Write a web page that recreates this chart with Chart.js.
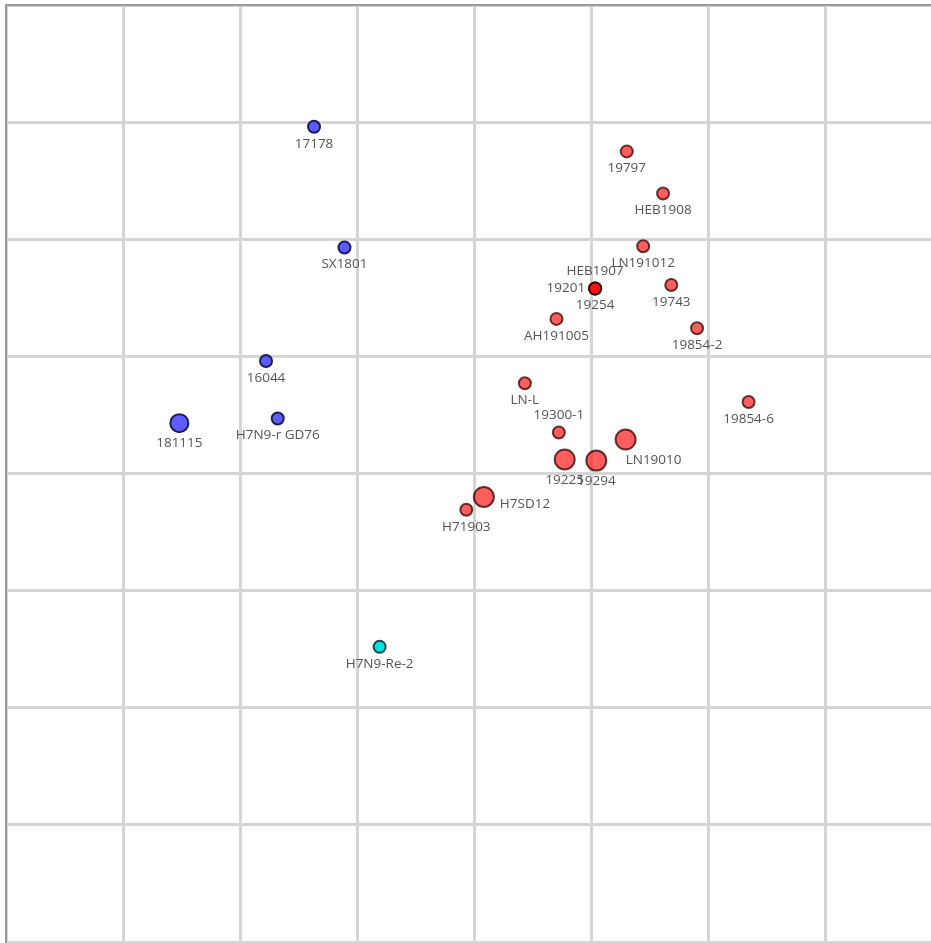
<!DOCTYPE html>
<html>
<head>
<meta charset="utf-8">
<script src="https://cdn.jsdelivr.net/npm/chart.js@4.4.1/dist/chart.umd.min.js"></script>
<style>
html,body{margin:0;padding:0;background:#fff;overflow:hidden}
canvas{display:block}
</style>
</head>
<body>
<canvas id="map" width="931" height="943"></canvas>
<script>
// antigenic map coordinates (1 grid unit per cell)
const names =  ['17178','SX1801','16044','181115','H7N9-r GD76','H7N9-Re-2',
  '19797','HEB1908','LN191012','19743','AH191005','19854-2','LN-L','19854-6','19300-1',
  'LN19010','19225','19294','H7SD12','H71903','HEB1907','19201','19254'];
const xVals = [2.63,2.89,2.22,1.48,2.32,3.19,
  5.30,5.61,5.44,5.68,4.70,5.90,4.43,6.34,4.72,
  5.29,4.77,5.04,4.08,3.93,5.03,5.03,5.03];
const yVals = [6.96,5.93,4.96,4.43,4.47,2.52,
  6.75,6.39,5.94,5.61,5.32,5.24,4.77,4.61,4.35,
  4.29,4.12,4.11,3.80,3.69,5.58,5.58,5.58];
const groups = ['ref','ref','ref','ref','ref','vac',
  'test','test','test','test','test','test','test','test','test',
  'test','test','test','test','test','test','test','test'];
const sizes = [6,6,6,9,6,6, 6,6,6,6,6,6,6,6,6, 10,10,10,10,6,6,6,6];
// where each label sits relative to its point: b below, a above, l left, r right
const labelSide = ['b','b','b','b','b','b', 'b','b','b','b','b','b','b','b','a',
  'br','b','b','r','b','a','l','b'];

const styles={
  ref:{fill:'rgba(30,30,255,0.72)',border:'#1c1c58'},
  vac:{fill:'rgba(0,225,225,1)',border:'#0a4848'},
  test:{fill:'rgba(255,10,10,0.66)',border:'rgba(50,0,0,0.75)'}
};

const datasets=['ref','vac','test'].map(g=>{
  const idx=names.map((n,i)=>i).filter(i=>groups[i]===g);
  return {
    label:g,
    data:idx.map(i=>({x:xVals[i],y:yVals[i],name:names[i],side:labelSide[i]})),
    pointRadius:idx.map(i=>sizes[i]),
    pointHoverRadius:idx.map(i=>sizes[i]),
    backgroundColor:styles[g].fill,
    borderColor:styles[g].border,
    pointBorderWidth:2
  };
});

const pointLabels={
  id:'pointLabels',
  afterDatasetsDraw(chart){
    const ctx=chart.ctx;
    ctx.save();
    ctx.font='13.5px "Open Sans", "Noto Sans", sans-serif';
    ctx.fillStyle='#555';
    ctx.textBaseline='middle';
    chart.data.datasets.forEach((ds,di)=>{
      chart.getDatasetMeta(di).data.forEach((pt,i)=>{
        const d=ds.data[i], r=ds.pointRadius[i]+2;
        let x=pt.x, y=pt.y;
        ctx.textAlign='center';
        if(d.side==='b') y+=r+9;
        else if(d.side==='a') y-=r+9;
        else if(d.side==='l'){ ctx.textAlign='right'; x-=r+2; }
        else if(d.side==='r'){ ctx.textAlign='left'; x+=r+4; y+=7; }
        else if(d.side==='br'){ x+=r+16; y+=r+9; }
        ctx.fillText(d.name,x,y);
      });
    });
    ctx.restore();
  }
};

new Chart(document.getElementById('map'),{
  type:'scatter',
  data:{datasets},
  options:{
    responsive:false,
    animation:false,
    layout:{autoPadding:false,padding:{left:6,top:5,right:0,bottom:1}},
    plugins:{legend:{display:false},tooltip:{enabled:false}},
    scales:{
      x:{type:'linear',position:'top',min:0,max:925/117.125,
        ticks:{display:false,stepSize:1,includeBounds:false},
        grid:{color:'#d5d5d5',lineWidth:3,drawTicks:false},
        border:{color:'#9a9a9a',width:2}},
      y:{type:'linear',min:0,max:8,
        ticks:{display:false,stepSize:1},
        grid:{color:'#d5d5d5',lineWidth:3,drawTicks:false},
        border:{color:'#9a9a9a',width:2}}
    }
  },
  plugins:[pointLabels]
});
</script>
</body>
</html>
